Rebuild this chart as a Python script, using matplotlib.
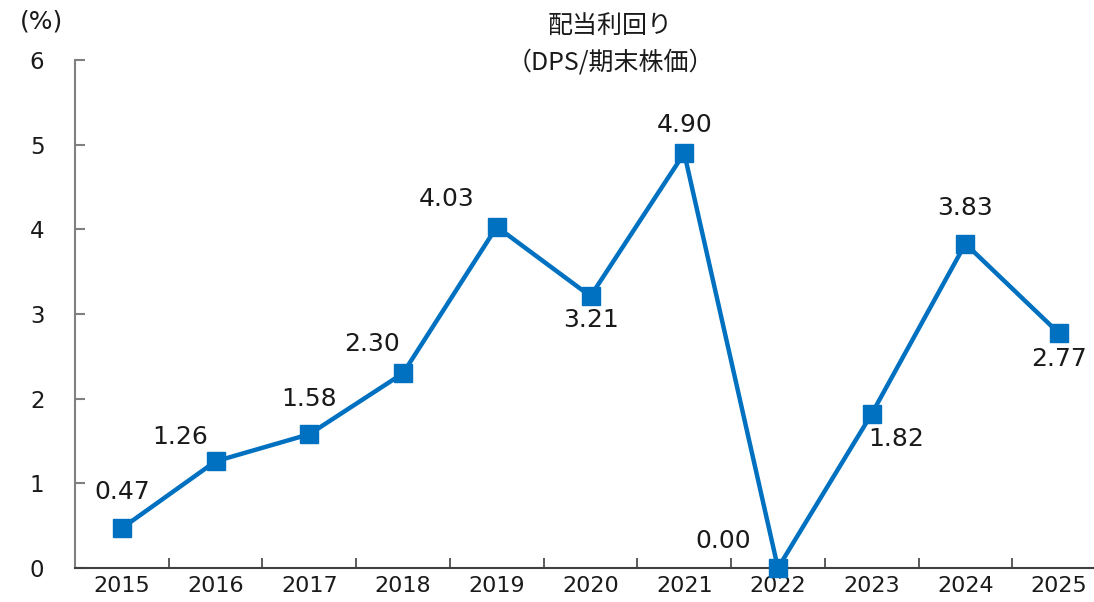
import matplotlib
matplotlib.use("Agg")
import matplotlib.pyplot as plt

plt.rcParams['font.family'] = ['DejaVu Sans', 'Noto Sans CJK JP']

years = ['2015', '2016', '2017', '2018', '2019', '2020', '2021', '2022', '2023', '2024', '2025']
values = [0.47, 1.26, 1.58, 2.30, 4.03, 3.21, 4.90, 0.00, 1.82, 3.83, 2.77]
labels = ['0.47', '1.26', '1.58', '2.30', '4.03', '3.21', '4.90', '0.00', '1.82', '3.83', '2.77']
offsets = [(0, 36), (-35, 24), (0, 35), (-31, 29), (-50, 28), (0, -24), (0, 28), (-55, 27), (25, -25), (0, 36), (0, -26)]

W, H = 1094, 602
fig = plt.figure(figsize=(W / 100, H / 100), dpi=100)
ax = fig.add_axes([75 / W, 34 / H, (1106 - 75) / W, (568 - 60) / H])

x = list(range(len(years)))
ax.plot(x, values, color='#0070C0', linewidth=3.2, marker='s', markersize=12.5,
        markerfacecolor='#0070C0', markeredgecolor='#0070C0', clip_on=False, zorder=3)

for xi, v, lab, (dx, dy) in zip(x, values, labels, offsets):
    ax.annotate(lab, (xi, v), xytext=(dx, dy), textcoords='offset pixels',
                ha='center', va='center', fontsize=18, color='#1a1a1a')

ax.set_xlim(-0.5, len(years) - 0.5)
ax.set_ylim(0, 6)
ax.set_yticks(range(0, 7))
ax.set_yticklabels([str(i) for i in range(0, 7)], fontsize=16.5, color='#1a1a1a')
ax.set_xticks(x)
ax.set_xticklabels(years, fontsize=16, color='#1a1a1a')
ax.set_xticks([i + 0.5 for i in x[:-1]], minor=True)

ax.tick_params(axis='y', direction='in', length=7, width=1.5, color='#808080', pad=22)
ax.tick_params(axis='x', which='major', length=0, pad=6)
ax.tick_params(axis='x', which='minor', direction='in', length=7, width=1.2, color='#404040')

for s in ['top', 'right']:
    ax.spines[s].set_visible(False)
ax.spines['left'].set_color('#808080')
ax.spines['left'].set_linewidth(1.5)
ax.spines['bottom'].set_color('#404040')
ax.spines['bottom'].set_linewidth(1.5)

cjk = ['Noto Sans CJK JP', 'DejaVu Sans']
fig.text(610 / W, 1 - 27 / H, '配当利回り', ha='center', va='center', fontsize=18, color='#1a1a1a', family=cjk)
fig.text(610 / W, 1 - 62 / H, '（DPS/期末株価）', ha='center', va='center', fontsize=18, color='#1a1a1a', family=cjk)
fig.text(41 / W, 1 - 22 / H, '(%)', ha='center', va='center', fontsize=18, color='#1a1a1a')

fig.savefig('out.png', dpi=100)
